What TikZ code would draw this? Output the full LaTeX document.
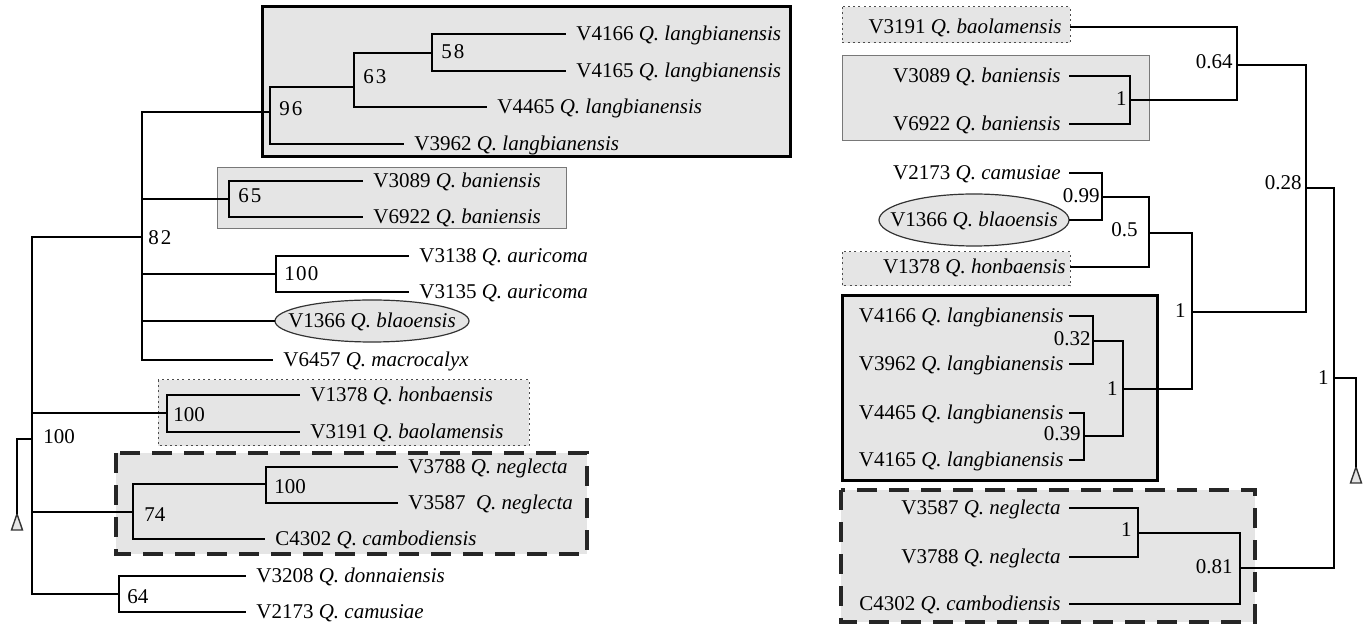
\documentclass[tikz,border=0pt]{standalone}
\usepackage{fontspec}
\setmainfont{Liberation Serif}
\usetikzlibrary{shapes.geometric}
\definecolor{boxgray}{RGB}{229,229,229}
\definecolor{edgegray}{RGB}{120,120,120}
\begin{document}
\begin{tikzpicture}[x=0.5pt,y=-0.5pt,
  txt/.style={font=\fontsize{10.5}{12}\selectfont, text height=1.55ex, text depth=0.2ex},
  lf/.style={txt, anchor=west, inner xsep=5pt, inner ysep=0pt},
  rf/.style={txt, anchor=east, inner xsep=4pt, inner ysep=0pt},
  lbl/.style={txt, inner sep=0pt},
  br/.style={line width=0.8pt, line join=miter},
  grpthick/.style={fill=boxgray, draw=black, line width=1.5pt},
  grpthin/.style={fill=boxgray, draw=edgegray, line width=0.5pt},
  grpdot/.style={fill=boxgray, draw=black!70, line width=0.5pt, dash pattern=on 1pt off 1.6pt},
  grpdash/.style={fill=boxgray, draw=black!85, line width=1.6pt, dash pattern=on 10pt off 6pt},
  ellbg/.style={draw=black!80, fill=boxgray, line width=0.6pt},
  elltxt/.style={txt, inner sep=0pt},
  tri/.style={draw=black!80, fill=boxgray, line width=0.7pt}
]
\useasboundingbox (0,0) rectangle (1371,624);

% ================= LEFT TREE =================
% group boxes
\draw[grpthick] (262,7) rectangle (790,157);
\draw[grpthin] (217,168) rectangle (566,229);
\draw[grpdot] (158,380) rectangle (529,446);
\draw[grpdash] (116,453) rectangle (587,554);

% ellipse outline behind V1366
\coordinate (e1c) at (372,321);
\draw[ellbg] (e1c) ellipse [x radius=97, y radius=21];

% leaves
\node[lf] (l4166) at (566,34) {V4166 \textit{Q. langbianensis}};
\node[lf] (l4165) at (566,71) {V4165 \textit{Q. langbianensis}};
\node[lf] (l4465) at (487,107) {V4465 \textit{Q. langbianensis}};
\node[lf] (l3962) at (404,144) {V3962 \textit{Q. langbianensis}};
\node[lf] (l3089) at (363,181) {V3089 \textit{Q. baniensis}};
\node[lf] (l6922) at (363,217) {V6922 \textit{Q. baniensis}};
\node[lf] (l3138) at (409,256) {V3138 \textit{Q. auricoma}};
\node[lf] (l3135) at (409,292) {V3135 \textit{Q. auricoma}};
\node[elltxt, minimum width=97pt] (e1) at (e1c) {V1366 \textit{Q. blaoensis}};
\node[lf] (l6457) at (273,360) {V6457 \textit{Q. macrocalyx}};
\node[lf] (l1378) at (300,395) {V1378 \textit{Q. honbaensis}};
\node[lf] (l3191) at (300,432) {V3191 \textit{Q. baolamensis}};
\node[lf] (l3788) at (398,467) {V3788 \textit{Q. neglecta}};
\node[lf] (l3587) at (398,503) {V3587\ \ \textit{Q. neglecta}};
\node[lf] (lc4302) at (265,539) {C4302 \textit{Q. cambodiensis}};
\node[lf] (l3208) at (246,576) {V3208 \textit{Q. donnaiensis}};
\node[lf] (l2173) at (246,612) {V2173 \textit{Q. camusiae}};

% internal nodes (x of vertical, y of incoming horizontal)
\coordinate (t1) at (17,514);
\coordinate (root) at (32,439);
\coordinate (n82) at (142,237);
\coordinate (n96) at (270,112);
\coordinate (n63) at (354,87);
\coordinate (n58) at (432,53);
\coordinate (n65) at (229,199);
\coordinate (n100a) at (276,274);
\coordinate (n100h) at (167,413);
\coordinate (n74) at (133,512);
\coordinate (n100n) at (266,484);
\coordinate (n64) at (119,594);

% root triangle and stub
\draw[tri] (t1) -- ++(-5.5,16) -- ++(11,0) -- cycle;
\draw[br] (t1) |- (root);

% branches
\draw[br] (root) |- (n82);
\draw[br] (root) |- (n100h);
\draw[br] (root) |- (n74);
\draw[br] (root) |- (n64);

\draw[br] (n82) |- (n96);
\draw[br] (n82) |- (n65);
\draw[br] (n82) |- (n100a);
\draw[br] (n82) |- (e1.west);
\draw[br] (n82) |- (l6457.west);

\draw[br] (n96) |- (n63);
\draw[br] (n96) |- (l3962.west);
\draw[br] (n63) |- (n58);
\draw[br] (n63) |- (l4465.west);
\draw[br] (n58) |- (l4166.west);
\draw[br] (n58) |- (l4165.west);

\draw[br] (n65) |- (l3089.west);
\draw[br] (n65) |- (l6922.west);
\draw[br] (n100a) |- (l3138.west);
\draw[br] (n100a) |- (l3135.west);

\draw[br] (n100h) |- (l1378.west);
\draw[br] (n100h) |- (l3191.west);

\draw[br] (n74) |- (n100n);
\draw[br] (n74) |- (lc4302.west);
\draw[br] (n100n) |- (l3788.west);
\draw[br] (n100n) |- (l3587.west);

\draw[br] (n64) |- (l3208.west);
\draw[br] (n64) |- (l2173.west);

% support labels
\node[lbl, anchor=west] (s58) at (441,52) {5\kern1pt8};
\node[lbl, anchor=west] (s63) at (363,77) {6\kern1pt3};
\node[lbl, anchor=west] (s96) at (279,109) {9\kern1pt6};
\node[lbl, anchor=west] (s65) at (238,196) {6\kern1pt5};
\node[lbl, anchor=west] (s82) at (148,238) {8\kern1pt2};
\node[lbl, anchor=west] (s100a) at (284,274) {1\kern0.6pt0\kern0.6pt0};
\node[lbl, anchor=west] (s100h) at (173,415) {100};
\node[lbl, anchor=west] (s100r) at (43,437) {100};
\node[lbl, anchor=west] (s100n) at (274,487) {100};
\node[lbl, anchor=west] (s74) at (144,515) {74};
\node[lbl, anchor=west] (s64) at (127,597) {64};

% ================= RIGHT TREE =================
\draw[grpdot] (842,7) rectangle (1070,43);
\draw[grpthin] (842,56) rectangle (1149,141);
\draw[grpdot] (842,252) rectangle (1070,286);
\draw[grpthick] (842,296) rectangle (1157,481);
\draw[grpdash] (841,490) rectangle (1255,622);

\coordinate (e2c) at (974,220);
\draw[ellbg] (e2c) ellipse [x radius=95, y radius=26];

% leaves
\node[rf] (r3191) at (1070,27) {V3191 \textit{Q. baolamensis}};
\node[rf] (r3089) at (1069,76) {V3089 \textit{Q. baniensis}};
\node[rf] (r6922) at (1069,124) {V6922 \textit{Q. baniensis}};
\node[rf] (r2173) at (1069,173) {V2173 \textit{Q. camusiae}};
\node[elltxt, minimum width=95pt] (e2) at (e2c) {V1366 \textit{Q. blaoensis}};
\node[rf, inner xsep=2pt] (r1378) at (1070,267) {V1378 \textit{Q. honbaensis}};
\node[rf, inner xsep=2.5pt] (r4166) at (1069,316) {V4166 \textit{Q. langbianensis}};
\node[rf, inner xsep=2.5pt] (r3962) at (1069,364) {V3962 \textit{Q. langbianensis}};
\node[rf, inner xsep=2.5pt] (r4465) at (1069,413) {V4465 \textit{Q. langbianensis}};
\node[rf, inner xsep=2.5pt] (r4165) at (1069,460) {V4165 \textit{Q. langbianensis}};
\node[rf] (r3587) at (1069,508) {V3587 \textit{Q. neglecta}};
\node[rf] (r3788) at (1069,557) {V3788 \textit{Q. neglecta}};
\node[rf] (rc4302) at (1069,604) {C4302 \textit{Q. cambodiensis}};

% internal nodes (x of vertical, y of outgoing horizontal)
\coordinate (r1b) at (1130,100);
\coordinate (r064) at (1237,65);
\coordinate (r028) at (1306,188);
\coordinate (r099) at (1102,197);
\coordinate (r05) at (1149,233);
\coordinate (r1c) at (1192,312);
\coordinate (r032) at (1093,341);
\coordinate (r039) at (1084,436);
\coordinate (r1d) at (1123,389);
\coordinate (r1e) at (1138,533);
\coordinate (r081) at (1240,568);
\coordinate (rroot) at (1334,378);
\coordinate (t2) at (1356,467);

\draw[tri] (t2) -- ++(-5.5,16) -- ++(11,0) -- cycle;
\draw[br] (rroot) -| (t2);

\draw[br] (rroot) |- (r028);
\draw[br] (rroot) |- (r081);

\draw[br] (r028) |- (r064);
\draw[br] (r028) |- (r1c);

\draw[br] (r064) |- (r3191.east);
\draw[br] (r064) |- (r1b);
\draw[br] (r1b) |- (r3089.east);
\draw[br] (r1b) |- (r6922.east);

\draw[br] (r1c) |- (r05);
\draw[br] (r1c) |- (r1d);
\draw[br] (r05) |- (r099);
\draw[br] (r05) |- (r1378.east);
\draw[br] (r099) |- (r2173.east);
\draw[br] (r099) |- (e2.east);

\draw[br] (r1d) |- (r032);
\draw[br] (r1d) |- (r039);
\draw[br] (r032) |- (r4166.east);
\draw[br] (r032) |- (r3962.east);
\draw[br] (r039) |- (r4465.east);
\draw[br] (r039) |- (r4165.east);

\draw[br] (r081) |- (r1e);
\draw[br] (r081) |- (rc4302.east);
\draw[br] (r1e) |- (r3587.east);
\draw[br] (r1e) |- (r3788.east);

% posterior labels
\node[lbl, anchor=east] (p064) at (1233,62) {0.64};
\node[lbl, anchor=east] (p1b) at (1127,99) {1};
\node[lbl, anchor=east] (p028) at (1302,183) {0.28};
\node[lbl, anchor=east] (p099) at (1100,196) {0.99};
\node[lbl, anchor=east] (p05) at (1138,230) {0.5};
\node[lbl, anchor=east] (p1c) at (1186,311) {1};
\node[lbl, anchor=east] (p032) at (1091,339) {0.32};
\node[lbl, anchor=east] (p1d) at (1118,389) {1};
\node[lbl, anchor=east] (p039) at (1081,434) {0.39};
\node[lbl, anchor=east] (p1e) at (1132,530) {1};
\node[lbl, anchor=east] (p081) at (1233,567) {0.81};
\node[lbl, anchor=east] (proot) at (1329,378) {1};
\end{tikzpicture}
\end{document}
